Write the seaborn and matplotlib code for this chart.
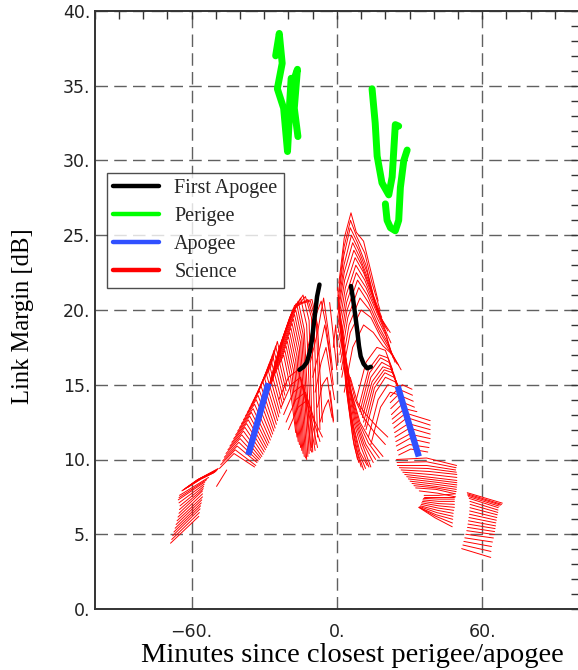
import matplotlib
matplotlib.use("Agg")
import matplotlib.pyplot as plt
import seaborn as sns
import pandas as pd
from matplotlib.lines import Line2D
from matplotlib.ticker import MultipleLocator, FuncFormatter

# ---------------- data (minutes, dB) ----------------
first_apogee = [
    [(-15.5, 16.0), (-13.8, 16.2), (-12.4, 16.5), (-11.2, 17.2), (-10.3, 18.0),
     (-9.6, 19.0), (-9.0, 19.8), (-8.2, 20.9), (-7.2, 21.7)],
    [(5.8, 21.6), (6.6, 20.8), (7.6, 19.6), (8.4, 18.6), (9.1, 17.6),
     (9.8, 16.9), (11.0, 16.4), (12.5, 16.1), (14.0, 16.2)],
]

perigee = [
    [(-25.3, 37.0), (-23.8, 38.5), (-22.6, 36.5), (-24.6, 34.8), (-22.0, 33.5),
     (-20.4, 30.6), (-19.6, 33.0), (-18.2, 35.2), (-16.3, 36.1), (-17.6, 33.5),
     (-16.1, 31.6)],
    [(-18.9, 35.5), (-20.2, 32.0)],
    [(14.5, 34.8), (15.8, 32.5), (16.6, 30.3), (18.6, 28.5), (21.4, 27.7),
     (22.8, 28.9), (23.4, 30.5), (24.1, 32.4), (25.5, 32.3)],
    [(20.0, 27.1), (20.7, 26.0), (22.1, 25.5), (24.1, 25.3), (25.5, 26.0),
     (26.2, 28.2), (27.6, 30.0), (29.0, 30.7)],
]

apogee = [
    [(-36.6, 10.3), (-28.3, 15.1)],
    [(25.1, 14.9), (33.8, 10.2)],
]

# Science passes, grouped by region
sci_far_left = [
    [(-68.7, 4.40), (-57.0, 6.20)], [(-68.2, 4.65), (-56.8, 6.45)],
    [(-67.8, 4.90), (-56.5, 6.70)], [(-67.3, 5.15), (-56.3, 6.90)],
    [(-66.8, 5.40), (-56.0, 7.10)], [(-66.4, 5.65), (-55.8, 7.30)],
    [(-66.0, 5.90), (-55.5, 7.50)], [(-65.6, 6.15), (-55.5, 7.70)],
    [(-65.2, 6.40), (-55.5, 7.90)], [(-65.0, 6.65), (-55.2, 8.05)],
    [(-64.8, 6.90), (-55.0, 8.20)], [(-65.2, 7.10), (-54.8, 8.35)],
    [(-65.5, 7.30), (-54.5, 8.50)], [(-65.2, 7.45), (-53.8, 8.65)],
    [(-65.0, 7.60), (-53.0, 8.80)],
    [(-64.0, 7.90), (-58.0, 8.60), (-49.0, 9.40)],
    [(-63.5, 7.95), (-57.5, 8.65), (-49.2, 9.35)],
    [(-63.0, 8.00), (-57.0, 8.70), (-49.5, 9.30)],
    [(-62.6, 8.05), (-56.8, 8.70), (-49.8, 9.25)],
    [(-62.2, 8.10), (-56.5, 8.70), (-50.0, 9.20)],
    [(-61.8, 8.12), (-56.2, 8.70), (-50.5, 9.15)],
    [(-61.5, 8.15), (-56.0, 8.70), (-51.0, 9.10)],
    [(-49.7, 8.2), (-45.5, 9.3)],
]

sci_left_wing = [
    [(-48.5, 9.40), (-42.5, 10.40), (-34.0, 9.50)],
    [(-48.0, 9.65), (-42.0, 10.65), (-33.5, 9.60)],
    [(-47.2, 9.90), (-41.2, 10.90), (-33.0, 9.80)],
    [(-46.5, 10.15), (-40.5, 11.15), (-32.5, 9.90)],
    [(-45.8, 10.40), (-40.0, 11.40), (-32.0, 10.00)],
    [(-45.0, 10.65), (-39.3, 11.65), (-31.5, 10.10)],
    [(-44.2, 10.90), (-38.6, 11.90), (-31.0, 10.20)],
    [(-43.4, 11.15), (-38.0, 12.15), (-30.5, 10.35)],
    [(-42.6, 11.40), (-37.3, 12.40), (-30.0, 10.50)],
    [(-41.8, 11.65), (-36.6, 12.65), (-29.5, 10.65)],
    [(-41.0, 11.90), (-36.0, 12.90), (-29.0, 10.80)],
    [(-40.2, 12.15), (-35.3, 13.15), (-28.5, 10.95)],
    [(-39.4, 12.40), (-34.6, 13.40), (-28.0, 11.10)],
    [(-38.6, 12.65), (-34.0, 13.70), (-27.5, 11.30)],
    [(-37.8, 12.90), (-33.3, 14.00), (-27.0, 11.50)],
    [(-37.0, 13.15), (-32.6, 14.30), (-26.5, 11.70)],
    [(-36.2, 13.40), (-32.0, 14.60), (-26.0, 11.90)],
    [(-35.4, 13.65), (-31.3, 14.90), (-25.5, 12.10)],
    [(-34.6, 13.90), (-30.6, 15.20), (-25.0, 12.35)],
    [(-33.8, 14.15), (-30.0, 15.50), (-24.5, 12.60)],
    [(-33.0, 14.40), (-29.3, 15.80), (-24.0, 12.85)],
    [(-32.2, 14.65), (-28.6, 16.10), (-23.5, 13.10)],
    [(-31.4, 14.90), (-28.0, 16.40), (-23.0, 13.40)],
    [(-30.6, 15.15), (-27.3, 16.70), (-22.5, 13.70)],
    [(-29.8, 15.40), (-26.6, 17.00), (-22.0, 14.00)],
    [(-29.0, 15.65), (-26.0, 17.30), (-21.5, 14.30)],
    [(-28.2, 15.90), (-25.3, 17.60), (-21.0, 14.60)],
    [(-27.4, 16.15), (-24.6, 17.90), (-20.5, 14.90)],
]

sci_left_peak = [
    [(-31.0, 13.2), (-26.0, 15.6), (-22.0, 17.0), (-19.5, 15.0), (-17.0, 11.8)],
    [(-30.5, 13.5), (-25.5, 15.9), (-21.5, 17.3), (-19.0, 15.4), (-16.5, 11.5)],
    [(-30.0, 13.8), (-25.0, 16.2), (-21.0, 17.6), (-18.5, 15.7), (-16.0, 11.2)],
    [(-29.5, 14.1), (-24.5, 16.5), (-20.5, 17.9), (-18.0, 16.0), (-15.5, 11.0)],
    [(-29.0, 14.4), (-24.0, 16.8), (-20.0, 18.2), (-17.5, 16.3), (-15.0, 10.8)],
    [(-28.5, 14.7), (-23.5, 17.1), (-19.5, 18.5), (-17.0, 16.6), (-14.5, 10.6)],
    [(-28.0, 15.0), (-23.0, 17.4), (-19.0, 18.8), (-16.5, 16.9), (-14.0, 10.4)],
    [(-27.5, 15.3), (-22.5, 17.7), (-18.5, 19.1), (-16.0, 17.2), (-13.5, 10.2)],
    [(-27.0, 15.6), (-22.0, 18.0), (-18.0, 19.4), (-15.5, 17.5), (-13.0, 10.1)],
    [(-26.5, 15.9), (-21.5, 18.3), (-17.5, 19.7), (-15.0, 17.8), (-12.5, 10.0)],
    [(-26.0, 16.2), (-21.0, 18.6), (-17.0, 20.0), (-14.5, 18.1), (-12.0, 10.2)],
    [(-25.5, 16.5), (-20.5, 18.9), (-16.5, 20.3), (-14.0, 18.4), (-11.5, 10.4)],
    [(-25.0, 16.8), (-20.0, 19.2), (-16.0, 20.6), (-13.5, 18.7), (-11.0, 10.6)],
    [(-24.5, 17.1), (-19.5, 19.5), (-15.0, 20.8), (-12.5, 19.0), (-10.5, 10.8)],
    [(-24.0, 17.4), (-19.0, 19.7), (-14.0, 21.0), (-11.5, 19.3), (-10.0, 10.5)],
    [(-23.5, 17.6), (-18.5, 19.9), (-13.0, 20.9), (-10.5, 19.5), (-9.0, 11.0)],
    [(-23.0, 17.8), (-18.0, 20.1), (-12.0, 20.7), (-9.5, 19.4), (-8.0, 11.5)],
    [(-22.5, 18.0), (-17.5, 20.3), (-11.0, 20.6), (-8.5, 19.2), (-7.0, 12.0)],
    [(-22.0, 18.2), (-17.0, 20.4), (-10.3, 20.7), (-8.0, 19.0), (-6.0, 12.5)],
    [(-24.0, 14.0), (-20.0, 15.5), (-16.0, 16.0), (-13.0, 14.0), (-10.5, 10.5)],
    [(-23.0, 13.5), (-19.0, 15.0), (-15.0, 15.5), (-12.0, 13.5), (-9.0, 10.6)],
    [(-22.0, 13.0), (-18.0, 14.5), (-14.0, 15.0), (-11.0, 13.0), (-8.0, 10.8)],
    [(-21.0, 12.5), (-17.0, 14.0), (-13.0, 14.5), (-10.0, 12.8), (-7.0, 11.2)],
    [(-20.0, 12.0), (-16.0, 13.5), (-12.0, 14.0), (-9.0, 12.5), (-6.0, 11.5)],
    [(-12.0, 17.5), (-9.0, 19.5), (-6.5, 20.6), (-4.5, 19.0), (-2.5, 16.5)],
    [(-11.0, 16.5), (-8.0, 18.5), (-5.5, 20.8), (-3.5, 18.5), (-1.8, 16.0)],
    [(-10.0, 15.5), (-7.0, 17.5), (-5.0, 19.0), (-3.0, 17.0), (-1.5, 15.0)],
    [(-9.0, 14.5), (-6.5, 16.5), (-4.5, 17.5), (-2.5, 15.5), (-1.0, 14.0)],
    [(-8.0, 13.5), (-6.0, 15.0), (-4.0, 15.5), (-2.5, 13.8), (-1.5, 12.5)],
    [(-7.0, 12.5), (-5.0, 13.5), (-3.5, 14.0), (-2.0, 12.8)],
    [(-2.8, 14.6), (-1.4, 12.6)],
    [(-3.0, 20.5), (-2.0, 19.0), (-1.0, 17.5), (0.0, 16.0)],
]

sci_right_peak = [
    [(0.8, 21.8), (3.0, 24.8), (5.8, 26.5), (8.0, 25.2), (11.0, 24.6), (14.0, 22.6), (17.0, 20.6)],
    [(0.7, 21.2), (2.9, 24.2), (5.6, 26.0), (8.2, 24.9), (11.5, 23.8), (14.5, 21.8), (17.8, 20.0)],
    [(0.5, 20.6), (2.8, 23.6), (5.5, 25.5), (8.5, 24.5), (12.0, 23.0), (15.0, 21.0), (18.5, 19.5)],
    [(0.4, 20.0), (2.9, 23.0), (6.0, 25.0), (9.0, 24.0), (12.5, 22.5), (15.8, 20.5), (19.2, 19.1)],
    [(0.3, 19.5), (3.0, 22.5), (6.5, 24.5), (9.5, 23.5), (13.0, 22.0), (16.5, 20.0), (20.0, 18.8)],
    [(0.4, 19.0), (3.2, 22.0), (7.0, 24.0), (10.2, 23.0), (13.7, 21.5), (17.2, 19.8), (21.0, 18.6)],
    [(0.5, 18.5), (3.5, 21.5), (7.5, 23.5), (11.0, 22.5), (14.5, 21.0), (18.0, 19.5), (22.0, 18.5)],
    [(0.7, 18.0), (3.8, 21.0), (7.8, 23.0), (11.5, 22.0), (15.2, 20.5), (19.0, 19.0), (22.3, 17.8)],
    [(1.0, 17.5), (4.0, 20.5), (8.0, 22.5), (12.0, 21.5), (16.0, 20.0), (20.0, 18.5), (22.5, 17.0)],
    [(1.2, 17.0), (4.2, 20.0), (8.5, 22.0), (12.5, 21.0), (16.5, 19.5), (20.5, 18.2), (23.2, 16.8)],
    [(1.5, 16.5), (4.5, 19.5), (9.0, 21.5), (13.0, 20.5), (17.0, 19.0), (21.0, 17.8), (24.0, 16.5)],
    [(1.8, 16.0), (5.0, 19.0), (9.5, 20.8), (13.5, 20.0), (17.5, 18.6), (21.5, 17.5), (24.8, 16.4)],
    [(2.0, 15.5), (5.5, 18.5), (10.0, 20.0), (14.0, 19.5), (18.0, 18.2), (22.0, 17.2), (25.5, 16.3)],
    [(3.0, 14.5), (6.5, 17.5), (11.0, 19.0), (15.0, 18.5), (19.0, 17.6), (23.0, 17.0), (26.5, 16.0)],
    [(0.3, 21.5), (1.5, 18.5), (4.0, 14.5), (6.5, 11.5), (8.5, 10.0)],
    [(0.5, 21.0), (2.0, 18.0), (4.5, 14.0), (7.0, 11.0), (9.0, 9.8)],
    [(0.8, 20.5), (2.5, 17.2), (5.0, 13.5), (7.8, 10.8), (10.0, 9.5)],
    [(1.0, 20.0), (3.0, 16.5), (5.5, 13.0), (8.5, 10.5), (11.0, 9.3)],
    [(1.2, 19.8), (3.2, 16.3), (6.0, 12.8), (9.0, 10.5), (11.8, 9.4)],
    [(1.5, 19.5), (3.5, 16.0), (6.5, 12.5), (9.5, 10.5), (12.5, 9.6)],
    [(1.8, 19.2), (4.0, 15.8), (7.0, 12.5), (10.0, 10.8), (13.2, 9.5)],
    [(2.0, 19.0), (4.5, 15.5), (7.5, 12.5), (10.5, 11.0), (14.0, 9.5)],
    [(2.3, 18.5), (4.8, 15.2), (8.0, 12.5), (11.2, 11.0), (15.0, 9.8)],
    [(2.5, 18.0), (5.0, 15.0), (8.5, 12.5), (12.0, 11.0), (16.0, 10.0)],
    [(3.0, 17.5), (5.5, 14.8), (9.0, 12.5), (13.0, 11.1), (17.5, 10.1)],
    [(3.5, 17.0), (6.0, 14.5), (9.5, 12.5), (14.0, 11.2), (19.0, 10.2)],
    [(4.5, 16.0), (7.5, 14.0), (11.0, 12.8), (15.5, 11.8), (20.0, 11.0)],
    [(5.5, 15.5), (8.5, 13.8), (12.0, 13.0), (16.5, 12.2), (21.0, 11.5)],
    [(8.0, 14.0), (12.0, 16.5), (16.5, 17.5), (20.0, 17.3), (23.0, 16.0)],
    [(9.0, 13.5), (13.0, 16.0), (17.5, 17.0), (21.0, 16.8), (24.0, 15.5)],
    [(9.5, 13.2), (13.5, 15.8), (18.0, 16.8), (21.5, 16.5), (24.5, 15.2)],
    [(10.0, 13.0), (14.0, 15.5), (18.5, 16.5), (22.0, 16.2), (25.0, 15.0)],
    [(10.5, 12.8), (14.5, 15.2), (19.0, 16.2), (22.5, 16.0), (25.5, 14.8)],
    [(11.0, 12.5), (15.0, 15.0), (19.5, 16.0), (23.0, 15.8), (26.0, 14.6)],
    [(11.5, 12.2), (15.5, 14.8), (19.8, 15.8), (23.5, 15.5), (26.5, 14.4)],
    [(12.0, 12.0), (16.0, 14.5), (20.0, 15.5), (24.0, 15.2), (27.0, 14.2)],
    [(13.0, 11.5), (17.0, 14.0), (21.0, 15.0), (25.0, 14.8), (28.0, 13.8)],
    [(14.0, 11.0), (18.0, 13.5), (22.0, 14.5), (26.0, 14.3), (28.5, 13.5)],
    [(-1.5, 17.5), (-0.5, 19.0), (0.5, 16.5)],
]

sci_right_wing = [
    [(22.0, 14.2), (27.0, 15.0), (31.0, 14.7)],
    [(22.0, 13.8), (27.0, 14.6), (31.2, 14.3)],
    [(22.2, 13.4), (27.2, 14.2), (31.5, 13.9)],
    [(22.5, 13.0), (27.5, 13.8), (32.0, 13.5)],
    [(22.8, 12.7), (28.0, 13.4), (33.0, 13.2)],
    [(23.0, 12.4), (28.5, 13.1), (38.5, 12.6)],
    [(23.5, 12.1), (29.0, 12.8), (38.5, 12.3)],
    [(23.8, 11.8), (29.5, 12.4), (38.5, 12.0)],
    [(24.0, 11.5), (30.0, 12.1), (38.5, 11.7)],
    [(24.3, 11.2), (30.0, 11.7), (38.5, 11.4)],
    [(24.5, 10.9), (30.0, 11.4), (38.2, 11.1)],
    [(25.0, 10.6), (30.0, 11.0), (38.0, 10.8)],
    [(25.5, 10.3), (30.5, 10.7), (37.5, 10.5)],
    [(24.6, 10.0), (37.0, 10.1), (49.4, 9.6)],
    [(24.8, 9.8), (37.0, 9.85), (49.2, 9.45)],
    [(25.0, 9.6), (37.0, 9.6), (49.0, 9.3)],
    [(25.8, 9.45), (37.5, 9.4), (49.3, 9.15)],
    [(26.5, 9.3), (38.0, 9.2), (49.5, 9.0)],
    [(27.2, 9.15), (38.5, 9.0), (49.5, 8.8)],
    [(28.0, 9.0), (39.0, 8.8), (49.5, 8.6)],
    [(28.8, 8.85), (39.5, 8.65), (49.5, 8.45)],
    [(29.5, 8.7), (40.0, 8.5), (49.5, 8.3)],
    [(30.2, 8.55), (40.5, 8.35), (49.4, 8.15)],
    [(31.0, 8.4), (41.0, 8.2), (49.3, 8.0)],
    [(31.8, 8.25), (41.0, 8.1), (49.2, 7.85)],
    [(32.5, 8.1), (41.0, 8.0), (49.0, 7.7)],
    [(34.0, 7.9), (41.5, 7.75), (49.0, 7.5)],
    [(36.0, 7.6), (42.0, 7.6), (48.5, 7.7)],
    [(35.9, 7.5), (42.0, 7.5), (48.5, 7.5)],
    [(35.7, 7.4), (42.0, 7.35), (48.5, 7.35)],
    [(35.5, 7.3), (42.0, 7.2), (48.5, 7.2)],
    [(35.3, 7.2), (42.0, 7.05), (48.5, 7.0)],
    [(35.0, 7.1), (42.0, 6.9), (48.5, 6.8)],
    [(34.8, 7.0), (41.8, 6.75), (48.2, 6.6)],
    [(34.5, 6.9), (41.5, 6.6), (48.0, 6.4)],
    [(34.2, 6.85), (41.2, 6.45), (47.9, 6.2)],
    [(34.0, 6.8), (41.0, 6.3), (47.8, 6.0)],
    [(33.9, 6.8), (40.8, 6.2), (47.7, 5.75)],
    [(33.8, 6.8), (40.5, 6.1), (47.6, 5.5)],
]

sci_far_right = [
    [(53.8, 7.78), (68.3, 7.08)], [(53.9, 7.70), (68.0, 7.00)],
    [(54.0, 7.62), (67.6, 6.95)], [(54.3, 7.52), (67.0, 6.88)],
    [(54.6, 7.40), (66.6, 6.78)], [(54.9, 7.20), (66.5, 6.62)],
    [(55.0, 7.00), (66.4, 6.46)], [(54.9, 6.78), (66.2, 6.30)],
    [(54.8, 6.56), (66.0, 6.12)], [(54.7, 6.34), (65.8, 5.94)],
    [(54.5, 6.12), (65.6, 5.76)], [(54.3, 5.90), (65.5, 5.56)],
    [(54.1, 5.68), (65.3, 5.38)], [(53.9, 5.46), (65.1, 5.18)],
    [(53.6, 5.24), (65.0, 4.98)], [(53.2, 5.00), (64.6, 4.75)],
    [(52.8, 4.76), (64.2, 4.48)], [(52.4, 4.52), (63.8, 4.18)],
    [(52.0, 4.28), (63.6, 3.85)], [(51.5, 4.04), (63.5, 3.45)],
]

legend_labels = ["First Apogee", "Perigee", "Apogee", "Science"]
colors = {"First Apogee": "#000000", "Perigee": "#00ff00",
          "Apogee": "#3050ff", "Science": "#ff0000"}


def to_frame(groups, name):
    rows = []
    for i, line in enumerate(groups):
        for j, (x, y) in enumerate(line):
            rows.append({"unit": f"{name}-{i}", "order": j, "x": x, "y": y})
    return pd.DataFrame(rows)


science = pd.concat([to_frame(g, f"sci{k}") for k, g in enumerate(
    [sci_far_left, sci_left_wing, sci_left_peak, sci_right_peak,
     sci_right_wing, sci_far_right])], ignore_index=True)
df_fa = to_frame(first_apogee, "fa")
df_pe = to_frame(perigee, "pe")
df_ap = to_frame(apogee, "ap")

sns.set_theme(style="white")
plt.rcParams["font.family"] = ["DejaVu Sans"]

fig = plt.figure(figsize=(5.78, 6.70), dpi=100)
ax = fig.add_axes([94.7 / 578, 61 / 670, 1 - 94.7 / 578 + 0.002, 598 / 670])

kw = dict(x="x", y="y", units="unit", estimator=None, sort=False, legend=False, ax=ax)
sns.lineplot(data=science, color=colors["Science"], lw=0.7, **kw)
sns.lineplot(data=df_ap, color=colors["Apogee"], lw=4.5, solid_capstyle="butt", **kw)
sns.lineplot(data=df_fa, color=colors["First Apogee"], lw=3.2, **kw)
sns.lineplot(data=df_pe, color=colors["Perigee"], lw=5.0, **kw)

ax.set_xlim(-100, 100)
ax.set_ylim(0, 40)
ax.xaxis.set_major_locator(MultipleLocator(60))
ax.xaxis.set_minor_locator(MultipleLocator(10))
ax.yaxis.set_major_locator(MultipleLocator(5))
ax.yaxis.set_minor_locator(MultipleLocator(1))
fmt = FuncFormatter(lambda v, p: f"{v:.0f}.".replace("-", "\u2212"))
ax.xaxis.set_major_formatter(fmt)
ax.yaxis.set_major_formatter(fmt)

ax.grid(True, which="major", color="#606060", lw=1.0, ls=(0, (9, 4.5)))
ax.tick_params(which="both", direction="in", top=True, right=True,
               length=5.5, width=1.0, color="#333333")
ax.tick_params(axis="x", which="major", pad=10, labelsize=12.5, labelcolor="#222222")
ax.tick_params(axis="y", which="major", pad=3, labelsize=12.5, labelcolor="#222222")
for s in ax.spines.values():
    s.set_color("#333333")
    s.set_linewidth(1.4)

serif = ["Liberation Serif", "DejaVu Serif"]
ax.set_xlabel("Minutes since closest perigee/apogee", family=serif, fontsize=20.5, color="black")
ax.set_ylabel("Link Margin [dB]", family=serif, fontsize=17.7, color="black")
ax.xaxis.set_label_coords(0.531, -0.077)
ax.xaxis.label.set_va("center")
ax.yaxis.set_label_coords(-0.148, 0.49)
ax.yaxis.label.set_va("center")

handles = [Line2D([0], [0], color=colors[l], lw=3.2) for l in legend_labels]
leg = ax.legend(handles, legend_labels, loc="upper left",
                bbox_to_anchor=(12.5 / 483.3, (609 - 173.3) / 598),
                borderaxespad=0, frameon=True, fancybox=False,
                prop={"family": serif, "size": 14.5}, handlelength=2.25,
                labelspacing=0.43, handletextpad=0.78, borderpad=0.3)
leg.get_frame().set_edgecolor("#222222")
leg.get_frame().set_linewidth(1.0)

fig.savefig("out.png", dpi=100)
